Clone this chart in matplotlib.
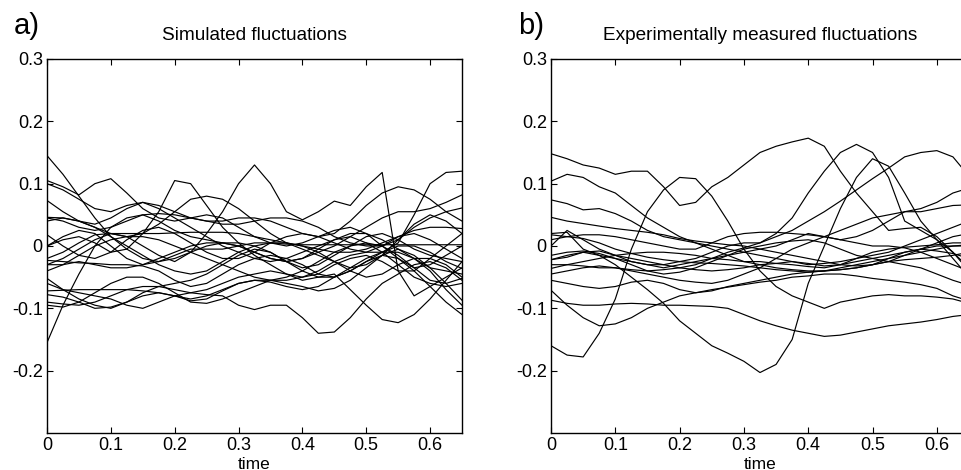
import matplotlib
matplotlib.use("Agg")
import matplotlib.pyplot as plt
import numpy as np

plt.rcParams['font.family'] = ['Liberation Sans', 'DejaVu Sans']

# time grid (s)
time = [0.0, 0.025, 0.05, 0.075, 0.1, 0.125, 0.15, 0.175, 0.2, 0.225, 0.25, 0.275,
        0.3, 0.325, 0.35, 0.375, 0.4, 0.425, 0.45, 0.475, 0.5, 0.525, 0.55, 0.575,
        0.6, 0.625, 0.65]

# Simulated fluctuations (values x 1e-3)
sim_1 = [145,115,80,45,15,-5,-20,-25,-20,-10,0,5,5,0,-10,-25,-35,-30,-15,0,15,20,10,-5,-15,-20,-25]
sim_2 = [-155,-95,-45,0,30,45,50,40,25,15,10,5,0,-10,-20,-25,-20,-5,10,20,20,10,-5,-20,-35,-40,-45]
sim_3 = [105,95,82,100,108,85,60,45,40,45,50,45,30,15,5,0,5,15,25,30,20,0,-20,-35,-30,-15,0]
sim_4 = [100,90,75,60,55,65,70,60,45,30,15,0,-10,-20,-25,-20,-10,0,10,15,5,-10,-30,-50,-60,-65,-60]
sim_5 = [-30,-20,-5,10,20,15,0,-15,-25,-10,20,55,100,130,100,55,42,55,72,65,95,118,-40,-80,-65,-50,-35]
sim_6 = [-60,-70,-75,-80,-85,-95,-100,-90,-80,-75,-78,-80,-95,-102,-95,-95,-115,-140,-138,-115,-85,-60,-45,-30,-25,-35,-55]
sim_7 = [-90,-93,-95,-90,-80,-70,-65,-65,-70,-75,-70,-60,-50,-45,-40,-45,-55,-50,-45,-70,-95,-118,-123,-110,-85,-55,-25]
sim_8 = [0,10,15,5,-10,-5,20,55,105,100,65,30,5,-15,-30,-45,-50,-45,-30,-20,-15,-25,-40,-40,-20,0,20]
sim_9 = [40,45,40,30,20,15,20,35,55,75,80,75,60,40,20,5,-5,-15,-25,-35,-30,-15,10,35,50,40,20]
sim_10 = [-20,-10,5,18,20,20,20,20,21,22,22,22,20,15,10,5,0,-5,-10,-10,-5,5,15,25,30,30,28]
sim_11 = [0,15,25,20,0,-20,-30,-25,-15,-5,-5,-5,0,5,5,3,2,2,2,2,2,2,2,2,2,2,2]
sim_12 = [-72,-71,-70,-70,-70,-70,-72,-75,-80,-85,-80,-70,-60,-55,-58,-65,-70,-65,-50,-35,-20,-10,5,50,100,118,120]
sim_13 = [45,40,30,25,30,40,50,52,50,45,40,40,45,45,40,30,20,15,20,40,65,85,95,90,75,55,40]
sim_14 = [-30,-30,-25,-30,-35,-35,-30,-20,-10,0,5,5,0,-10,-20,-25,-20,-10,0,15,30,45,55,55,60,70,82]
sim_15 = [73,55,40,35,45,60,70,65,55,45,40,35,35,40,45,45,40,30,15,5,0,0,10,30,45,55,61]
sim_16 = [-52,-70,-85,-95,-100,-90,-75,-65,-60,-55,-45,-30,-15,-5,-10,-25,-40,-50,-50,-40,-25,-15,-20,-40,-65,-90,-110]
sim_17 = [-78,-82,-90,-100,-98,-90,-80,-75,-80,-88,-85,-72,-60,-55,-55,-60,-65,-72,-68,-55,-35,-15,-5,-15,-35,-60,-87]
sim_18 = [-23,-25,-27,-28,-30,-30,-32,-40,-55,-65,-60,-45,-30,-20,-15,-20,-30,-45,-50,-40,-25,-10,0,0,-10,-25,-36]
sim_19 = [18,0,-15,-20,-10,10,25,30,20,5,-10,-20,-20,-10,5,15,20,15,5,-5,-10,0,15,20,10,-5,-20]
sim_20 = [46,45,40,30,15,0,-15,-30,-40,-45,-40,-25,-10,0,5,5,0,-10,-25,-40,-50,-45,-30,-20,-20,-30,-50]
sim_21 = [-40,-30,-15,0,10,15,15,10,0,-10,-20,-30,-40,-50,-55,-55,-50,-40,-25,-15,-10,-10,-10,-20,-40,-70,-95]
sim_22 = [-95,-98,-90,-75,-60,-50,-50,-60,-75,-90,-92,-85,-75,-65,-55,-50,-40,-25,-10,0,5,0,-15,-35,-55,-60,-52]

# Experimentally measured fluctuations (values x 1e-3)
exp_1 = [148,140,130,125,115,120,120,95,65,70,95,110,130,150,160,167,173,160,120,85,55,25,28,30,15,-10,-35]
exp_2 = [104,115,110,95,85,65,45,30,15,5,-5,-15,-25,-30,-35,-38,-40,-40,-38,-35,-30,-20,-10,-5,-8,-12,-20]
exp_3 = [-87,-92,-95,-95,-93,-92,-93,-95,-95,-96,-97,-100,-110,-120,-128,-135,-140,-145,-143,-138,-133,-128,-125,-122,-118,-113,-110]
exp_4 = [20,22,-5,-15,-30,-50,-70,-92,-120,-140,-160,-172,-185,-203,-190,-150,-60,0,60,110,140,128,85,40,10,-20,-50]
exp_5 = [-160,-175,-178,-140,-85,-5,55,90,110,108,80,40,-5,-40,-65,-80,-90,-100,-90,-85,-80,-78,-80,-80,-82,-85,-92]
exp_6 = [-22,-15,-10,-15,-20,-25,-30,-30,-25,-20,-10,0,5,5,20,45,85,120,150,163,150,110,40,25,10,-10,-40]
exp_7 = [-30,-30,-32,-35,-35,-38,-40,-38,-35,-30,-20,-10,-3,5,15,25,40,55,72,90,108,125,143,150,153,143,112]
exp_8 = [74,68,58,60,52,40,25,15,10,5,0,-5,-10,-15,-20,-25,-30,-28,-25,-20,-15,-10,0,10,20,30,40]
exp_9 = [46,40,36,32,28,25,22,18,12,8,5,2,0,-5,-10,-15,-20,-25,-30,-32,-30,-25,-15,-5,5,15,20]
exp_10 = [18,15,12,5,-5,-12,-18,-22,-25,-27,-28,-30,-32,-35,-38,-40,-42,-40,-35,-30,-25,-20,-15,-10,-5,0,2]
exp_11 = [0,25,10,-5,-15,-25,-30,-35,-30,-25,-20,-15,-10,-5,0,10,20,15,10,15,25,40,55,60,70,85,93]
exp_12 = [-15,-10,-8,-12,-20,-30,-40,-45,-42,-35,-25,-15,-5,0,5,8,10,5,-5,-15,-20,-25,-30,-35,-45,-55,-63]
exp_13 = [-36,-30,-25,-20,-15,-12,-10,-10,-12,-15,-20,-22,-25,-25,-28,-30,-33,-35,-30,-20,-10,-5,-2,0,2,5,5]
exp_14 = [-55,-60,-65,-68,-65,-58,-55,-60,-70,-75,-72,-65,-60,-55,-50,-45,-42,-40,-38,-35,-30,-25,-22,-20,-18,-15,-10]
exp_15 = [-71,-95,-115,-128,-125,-115,-100,-90,-80,-75,-70,-66,-62,-58,-55,-50,-48,-45,-45,-48,-52,-55,-58,-62,-68,-80,-88]
exp_16 = [-22,-18,-10,-8,-15,-20,-25,-30,-35,-38,-40,-38,-35,-30,-28,-25,-28,-32,-30,-25,-20,-15,-10,-5,0,0,0]
exp_17 = [10,15,18,18,15,10,5,0,-5,-5,5,15,20,22,22,20,18,15,10,5,0,0,-3,-10,-20,-30,-40]
exp_18 = [-45,-40,-35,-32,-35,-40,-45,-50,-55,-58,-60,-55,-45,-35,-20,-5,5,15,25,35,45,50,55,55,60,65,66]

sim_series = [sim_1, sim_2, sim_3, sim_4, sim_5, sim_6, sim_7, sim_8, sim_9, sim_10, sim_11,
              sim_12, sim_13, sim_14, sim_15, sim_16, sim_17, sim_18, sim_19, sim_20, sim_21, sim_22]
exp_series = [exp_1, exp_2, exp_3, exp_4, exp_5, exp_6, exp_7, exp_8, exp_9, exp_10, exp_11,
              exp_12, exp_13, exp_14, exp_15, exp_16, exp_17, exp_18]

titles = ["Simulated fluctuations", "Experimentally measured fluctuations"]
panel_labels = ["a)", "b)"]
x_ticks = [0, 0.1, 0.2, 0.3, 0.4, 0.5, 0.6]
x_ticklabels = ["0", "0.1", "0.2", "0.3", "0.4", "0.5", "0.6"]
y_ticks = [-0.2, -0.1, 0, 0.1, 0.2, 0.3]
y_ticklabels = ["-0.2", "-0.1", "0", "0.1", "0.2", "0.3"]

W, H = 962, 470
fig = plt.figure(figsize=(W / 100, H / 100), dpi=100)

# axes boxes in pixels: left, right, top, bottom
boxes = [(47, 462, 59, 433), (551, 969, 59, 433)]
axes = []
for (l, r, t, b) in boxes:
    ax = fig.add_axes([l / W, (H - b) / H, (r - l) / W, (b - t) / H])
    axes.append(ax)

for ax, series, title, lab, (l, r, t, b) in zip(axes, [sim_series, exp_series], titles,
                                                panel_labels, boxes):
    for s in series:
        ax.plot(time, np.array(s) / 1000.0, color='black', lw=0.85)
    ax.set_xlim(0, 0.65)
    ax.set_ylim(-0.3, 0.3)
    ax.set_xticks(x_ticks)
    ax.set_xticklabels(x_ticklabels)
    ax.set_yticks(y_ticks)
    ax.set_yticklabels(y_ticklabels)
    ax.tick_params(direction='in', top=True, right=True, length=4, width=0.8,
                   labelsize=13, pad=3)
    for sp in ax.spines.values():
        sp.set_linewidth(1.0)
    ax.set_xlabel("time", fontsize=12.5, labelpad=2)
    fig.text(((l + r) / 2) / W, 1 - 35 / H, title, ha='center', va='center', fontsize=13.7)
    fig.text((l - 33) / W, 1 - 26 / H, lab, ha='left', va='center', fontsize=21)

fig.savefig("out.png", dpi=100)
